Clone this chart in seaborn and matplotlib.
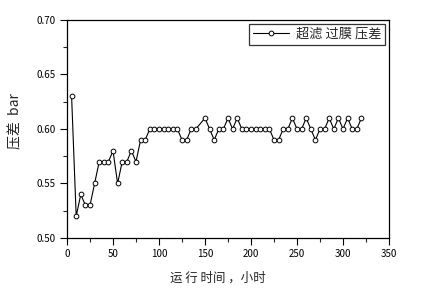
import matplotlib
matplotlib.use("Agg")
import matplotlib.pyplot as plt
from matplotlib.ticker import MultipleLocator
import seaborn as sns
import pandas as pd

hours = [5, 10, 15, 20, 25, 30, 35, 40, 45, 50, 55, 60, 65, 70, 75, 80, 85,
         90, 95, 100, 105, 110, 115, 120, 125, 130, 135, 140, 150, 155, 160,
         165, 170, 175, 180, 185, 190, 195, 200, 205, 210, 215, 220, 225, 230,
         235, 240, 245, 250, 255, 260, 265, 270, 275, 280, 285, 290, 295, 300,
         305, 310, 315, 320]
pressure = [0.63, 0.52, 0.54, 0.53, 0.53, 0.55, 0.57, 0.57, 0.57, 0.58, 0.55,
            0.57, 0.57, 0.58, 0.57, 0.59, 0.59,
            0.60, 0.60, 0.60, 0.60, 0.60, 0.60, 0.60, 0.59, 0.59, 0.60, 0.60,
            0.61, 0.60, 0.59, 0.60, 0.60, 0.61, 0.60, 0.61,
            0.60, 0.60, 0.60, 0.60, 0.60, 0.60, 0.60, 0.59, 0.59,
            0.60, 0.60, 0.61, 0.60, 0.60, 0.61, 0.60, 0.59, 0.60, 0.60,
            0.61, 0.60, 0.61, 0.60, 0.61, 0.60, 0.60, 0.61]
series_name = "超滤 过膜 压差"
x_label = "运 行 时间 ，小时"
y_label = "压差  bar"

df = pd.DataFrame({"h": hours, "p": pressure, "s": series_name})

sns.set_style("ticks")
plt.rcParams['font.family'] = ['Noto Sans CJK SC', 'DejaVu Sans']

fig = plt.figure(figsize=(4.22, 2.98), dpi=100)
ax = fig.add_axes([67/422, 1 - 238/298, (389-67)/422, (238-20)/298])

sns.lineplot(data=df, x="h", y="p", hue="s", palette=["black"], ax=ax,
             marker="o", markersize=3.4, markerfacecolor="white",
             markeredgecolor="black", markeredgewidth=0.7, linewidth=0.8)

ax.set_xlim(0, 350)
ax.set_ylim(0.50, 0.70)
ax.xaxis.set_major_locator(MultipleLocator(50))
ax.xaxis.set_minor_locator(MultipleLocator(25))
ax.yaxis.set_major_locator(MultipleLocator(0.05))
ax.yaxis.set_minor_locator(MultipleLocator(0.025))
ax.yaxis.set_major_formatter(matplotlib.ticker.FormatStrFormatter('%.2f'))
ax.tick_params(which='major', direction='out', length=5, width=0.8,
               labelsize=7, colors='black', pad=3)
ax.tick_params(which='minor', direction='out', length=3, width=0.8)
for s in ax.spines.values():
    s.set_visible(True)
    s.set_color('black')
    s.set_linewidth(0.9)

ax.set_xlabel(x_label, fontsize=9)
ax.set_ylabel(y_label, fontsize=10)
ax.xaxis.set_label_coords(0.469, -0.156)
ax.yaxis.set_label_coords(-0.137, 0.537)

leg = ax.legend(loc='upper right', frameon=True, fancybox=False,
                fontsize=9.5, handlelength=2.7, handletextpad=0.5,
                borderpad=0.3, borderaxespad=0.3)
leg.get_frame().set_edgecolor('black')
leg.get_frame().set_linewidth(0.9)

fig.savefig("out.png", dpi=100, facecolor="white")
